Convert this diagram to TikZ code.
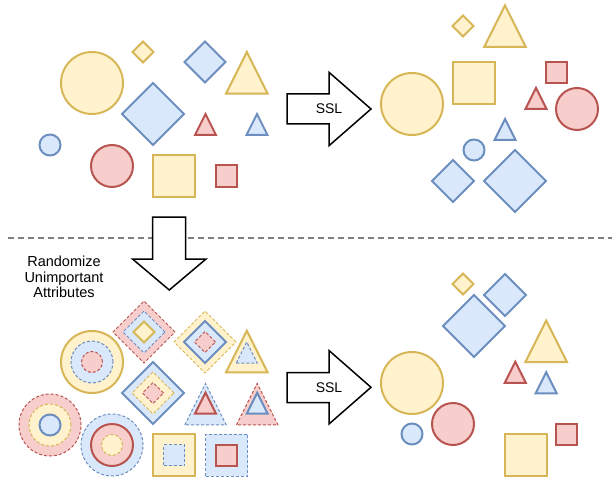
\documentclass[tikz,border=0pt]{standalone}
\usepackage{fontspec}
\setmainfont{Liberation Sans}
\usepackage{tikz}
\usetikzlibrary{shapes.geometric,positioning}
\definecolor{yfill}{HTML}{FFF2CC}
\definecolor{ydraw}{HTML}{D6B656}
\definecolor{bfill}{HTML}{DAE8FC}
\definecolor{bdraw}{HTML}{6C8EBF}
\definecolor{rfill}{HTML}{F8CECC}
\definecolor{rdraw}{HTML}{B85450}
\newcommand{\tri}[4][]{\draw[#1] ({#2-#4/2},{#3+#4/2}) -- (#2,{#3-#4/2}) -- ({#2+#4/2},{#3+#4/2}) -- cycle;}
\begin{document}
\begin{tikzpicture}[x=1pt,y=-1pt,
    circ/.style={circle,minimum size=#1pt,inner sep=0pt,outer sep=0pt},
    dia/.style={diamond,minimum size=#1pt,inner sep=0pt,outer sep=0pt},
    sq/.style={rectangle,minimum size=#1pt,inner sep=0pt,outer sep=0pt},
    ys/.style={draw=ydraw,fill=yfill,line width=2pt},
    bs/.style={draw=bdraw,fill=bfill,line width=2pt},
    rs/.style={draw=rdraw,fill=rfill,line width=2pt},
    yd/.style={draw=ydraw,fill=yfill,line width=1pt,dash pattern=on 3pt off 2pt},
    bd/.style={draw=bdraw,fill=bfill,line width=1pt,dash pattern=on 3pt off 2pt},
    rd/.style={draw=rdraw,fill=rfill,line width=1pt,dash pattern=on 3pt off 2pt},
    blockarrow/.style={draw=black,fill=white,line width=1.5pt},
    ssl/.style={font=\fontsize{14}{16}\selectfont},
    divider/.style={draw=gray,line width=1.5pt,dash pattern=on 6pt off 4pt}]
    \useasboundingbox (0,0) rectangle (615,481);
    \coordinate (divl) at (8,238);
    \coordinate (divr) at (612,238);
    \draw[divider] (divl) -- (divr);
    \node at (92,83) [circ=62, ys] (ycirc1) {};
    \node at (143,52) [dia=21, ys] (ydia1) {};
    \node at (205,62) [dia=41, bs] (bdia1) {};
    \node at (153,114) [dia=62, bs] (bdia2) {};
    \node at (50,145) [circ=21, bs] (bcirc1) {};
    \node at (112,166) [circ=42, rs] (rcirc1) {};
    \node at (174,176) [sq=42, ys] (ysq1) {};
    \node at (226,176) [sq=21, rs] (rsq1) {};
    \tri[ys]{246.8}{72.8}{41.5}
    \tri[rs]{205.5}{124.5}{21}
    \tri[bs]{257}{124.5}{21}
    \draw[blockarrow] (287,94) -- (329,94) -- (329,72.3) -- (371,109) -- (329,145.7) -- (329,124) -- (287,124) -- cycle;
    \node at (329,109) [ssl] (ssl1) {SSL};
    \node at (412,104) [circ=62, ys] (ycirc2) {};
    \node at (463,26) [dia=21, ys] (ydia2) {};
    \tri[ys]{505}{26.2}{41.5}
    \node at (474,83) [sq=42, ys] (ysq2) {};
    \node at (556,73) [sq=21, rs] (rsq2) {};
    \tri[rs]{536}{98.3}{21}
    \node at (577,109) [circ=42, rs] (rcirc2) {};
    \tri[bs]{505}{129.5}{21}
    \node at (474,150) [circ=21, bs] (bcirc2) {};
    \node at (453,181) [dia=42, bs] (bdia3) {};
    \node at (515,181) [dia=62, bs] (bdia4) {};
    \draw[blockarrow] (152.5,217) -- (185.5,217) -- (185.5,259) -- (206,259) -- (169.3,290) -- (132.5,259) -- (152.5,259) -- cycle;
    \node at (64,277) [font=\fontsize{14.5}{15.5}\selectfont, align=center] (rua) {Randomize\\Unimportant\\Attributes};
    \node at (92,362) [circ=62, ys] (ycirc3) {};
    \node at (92,362) [circ=42, bd] (bcirc3) {};
    \node at (92,362) [circ=21, rd] (rcirc3) {};
    \node at (144,332) [dia=62, rd] (rdia5) {};
    \node at (144,332) [dia=42, bd] (bdia5) {};
    \node at (144,332) [dia=21, ys] (ydia5) {};
    \node at (205,342) [dia=62, yd] (ydia6) {};
    \node at (205,342) [dia=42, bs] (bdia6) {};
    \node at (205,342) [dia=21, rd] (rdia6) {};
    \tri[ys]{246.8}{351.5}{41.5}
    \tri[bd]{246.8}{352.5}{21}
    \node at (153,393) [dia=62, bs] (bdia7) {};
    \node at (153,393) [dia=42, yd] (ydia7) {};
    \node at (153,393) [dia=21, rd] (rdia7) {};
    \tri[bd]{205.5}{404.2}{41.5}
    \tri[rs]{205.5}{403.2}{21}
    \tri[rd]{257.2}{404.2}{41.5}
    \tri[bs]{257.2}{403.2}{21}
    \node at (50,425) [circ=62, rd] (rcirc4) {};
    \node at (50,425) [circ=42, yd] (ycirc4) {};
    \node at (50,425) [circ=21, bs] (bcirc4) {};
    \node at (112,445) [circ=62, bd] (bcirc5) {};
    \node at (112,445) [circ=42, rs] (rcirc5) {};
    \node at (112,445) [circ=21, yd] (ycirc5) {};
    \node at (174,455) [sq=42, ys] (ysq3) {};
    \node at (174,455) [sq=21, bd] (bsq3) {};
    \node at (226.5,455) [sq=42, bd] (bsq4) {};
    \node at (226.5,455) [sq=21, rs] (rsq4) {};
    \draw[blockarrow] (287,372.5) -- (329,372.5) -- (329,350.5) -- (371,387.3) -- (329,424) -- (329,402.5) -- (287,402.5) -- cycle;
    \node at (329,387.3) [ssl] (ssl2) {SSL};
    \node at (463,284) [dia=21, ys] (ydia8) {};
    \node at (505,295) [dia=42, bs] (bdia8) {};
    \node at (474,326) [dia=62, bs] (bdia9) {};
    \tri[ys]{546.2}{341.3}{41.5}
    \tri[rs]{515.3}{372.3}{21}
    \tri[bs]{546.2}{382.8}{21}
    \node at (412,383) [circ=62, ys] (ycirc6) {};
    \node at (453,424) [circ=42, rs] (rcirc6) {};
    \node at (412,434) [circ=21, bs] (bcirc6) {};
    \node at (525.7,455) [sq=42, ys] (ysq5) {};
    \node at (566.7,434.5) [sq=21, rs] (rsq5) {};
\end{tikzpicture}
\end{document}
